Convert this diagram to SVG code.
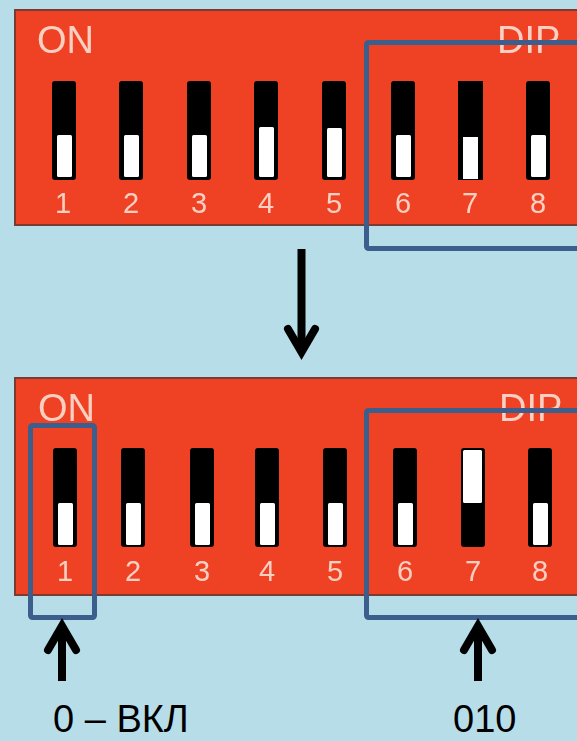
<svg xmlns="http://www.w3.org/2000/svg" width="577" height="741" viewBox="0 0 577 741">
  <defs>
    <filter id="soft" x="-20%" y="-20%" width="140%" height="140%">
      <feGaussianBlur stdDeviation="0.7"/>
    </filter>
    <filter id="softtext" x="-10%" y="-10%" width="120%" height="120%">
      <feGaussianBlur stdDeviation="0.5"/>
    </filter>
  </defs>
  <style>
    .bg { fill: #b7dde8; }
    .panel { fill: #ef4224; stroke: #7a3c30; stroke-width: 2; }
    .sw { fill: #000000; }
    .knob { fill: #ffffff; }
    .lbl { font-family: "Liberation Sans", Arial, sans-serif; fill: #fbd0c2; }
    .big { font-size: 38px; }
    .num { font-size: 29px; text-anchor: middle; }
    .box { fill: none; stroke: #3b5e8c; stroke-width: 5; stroke-linejoin: round; }
    .arrow { fill: none; stroke: #000000; stroke-width: 8; }
    .cap { font-family: "Liberation Sans", Arial, sans-serif; font-size: 38px; fill: #000000; }
  </style>
  <rect class="bg" x="0" y="0" width="577" height="741"/>

  <g id="dip-top">
    <rect class="panel" x="15" y="10" width="600" height="215"/>
    <g class="lbl big" filter="url(#softtext)">
      <text x="37" y="53">ON</text>
      <text x="497" y="53">DIP</text>
    </g>
    <g filter="url(#soft)">
      <rect class="sw" x="52" y="81" width="24" height="99" rx="3"/>
      <rect class="knob" x="57" y="135" width="15" height="42" rx="1.5"/>
      <rect class="sw" x="119" y="81" width="24" height="99" rx="3"/>
      <rect class="knob" x="124" y="135" width="15" height="42" rx="1.5"/>
      <rect class="sw" x="187" y="81" width="24" height="99" rx="3"/>
      <rect class="knob" x="192" y="135" width="15" height="42" rx="1.5"/>
      <rect class="sw" x="254" y="81" width="24" height="99" rx="3"/>
      <rect class="knob" x="259" y="127" width="15" height="50" rx="1.5"/>
      <rect class="sw" x="322" y="81" width="24" height="99" rx="3"/>
      <rect class="knob" x="327" y="128" width="15" height="49" rx="1.5"/>
      <rect class="sw" x="391" y="81" width="24" height="99" rx="3"/>
      <rect class="knob" x="396" y="135" width="15" height="42" rx="1.5"/>
      <rect class="sw" x="458" y="81" width="25" height="99"/>
      <rect class="knob" x="463" y="137" width="15" height="42"/>
      <rect class="sw" x="526" y="81" width="24" height="99" rx="3"/>
      <rect class="knob" x="531" y="135" width="15" height="42" rx="1.5"/>
    </g>
    <g class="lbl num" filter="url(#softtext)">
      <text x="63" y="213">1</text>
      <text x="131" y="213">2</text>
      <text x="199" y="213">3</text>
      <text x="266" y="213">4</text>
      <text x="334" y="213">5</text>
      <text x="403" y="213">6</text>
      <text x="470" y="213">7</text>
      <text x="538" y="213">8</text>
    </g>
  </g>

  <g id="dip-bottom">
    <rect class="panel" x="15" y="378" width="600" height="217"/>
    <g class="lbl big" filter="url(#softtext)">
      <text x="38" y="421">ON</text>
      <text x="499" y="421">DIP</text>
    </g>
    <g filter="url(#soft)">
      <rect class="sw" x="53" y="448" width="24" height="99" rx="3"/>
      <rect class="knob" x="58" y="503" width="15" height="42" rx="1.5"/>
      <rect class="sw" x="121" y="448" width="24" height="99" rx="3"/>
      <rect class="knob" x="126" y="503" width="15" height="42" rx="1.5"/>
      <rect class="sw" x="190" y="448" width="24" height="99" rx="3"/>
      <rect class="knob" x="195" y="503" width="15" height="42" rx="1.5"/>
      <rect class="sw" x="255" y="448" width="24" height="99" rx="3"/>
      <rect class="knob" x="260" y="503" width="15" height="42" rx="1.5"/>
      <rect class="sw" x="323" y="448" width="24" height="99" rx="3"/>
      <rect class="knob" x="328" y="503" width="15" height="42" rx="1.5"/>
      <rect class="sw" x="393" y="448" width="24" height="99" rx="3"/>
      <rect class="knob" x="398" y="503" width="15" height="42" rx="1.5"/>
      <rect class="sw" x="461" y="448" width="24" height="99" rx="3"/>
      <rect class="knob" x="463" y="450" width="19" height="53" rx="1.5"/>
      <rect class="sw" x="528" y="448" width="24" height="99" rx="3"/>
      <rect class="knob" x="533" y="503" width="15" height="42" rx="1.5"/>
    </g>
    <g class="lbl num" filter="url(#softtext)">
      <text x="65" y="581">1</text>
      <text x="133" y="581">2</text>
      <text x="202" y="581">3</text>
      <text x="267" y="581">4</text>
      <text x="335" y="581">5</text>
      <text x="405" y="581">6</text>
      <text x="473" y="581">7</text>
      <text x="540" y="581">8</text>
    </g>
  </g>

  <g id="box-top-678">
    <rect class="box" x="366.5" y="42.5" width="240" height="206" rx="2"/>
  </g>
  <g id="box-bottom-1">
    <rect class="box" x="30.5" y="425.5" width="64" height="192" rx="2"/>
  </g>
  <g id="box-bottom-678">
    <rect class="box" x="366.5" y="410.5" width="240" height="207" rx="2"/>
  </g>

  <g id="connectors">
    <line class="arrow" x1="301.5" y1="249" x2="301.5" y2="352"/>
    <polyline class="arrow" points="288,329 301.5,352 315,329" stroke-linecap="round" stroke-linejoin="miter"/>
    <line class="arrow" x1="62" y1="681" x2="62" y2="626"/>
    <polyline class="arrow" points="48,650 62,626 76,650" stroke-linecap="round" stroke-linejoin="miter"/>
    <line class="arrow" x1="478" y1="681" x2="478" y2="626"/>
    <polyline class="arrow" points="464,650 478,626 492,650" stroke-linecap="round" stroke-linejoin="miter"/>
  </g>

  <g id="label-left">
    <text class="cap" x="53" y="732">0 – ВКЛ</text>
  </g>
  <g id="label-right">
    <text class="cap" x="453" y="732">010</text>
  </g>
</svg>
